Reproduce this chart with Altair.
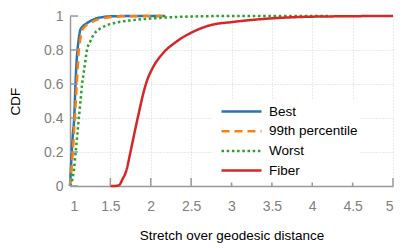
import altair as alt
import pandas as pd

series = ["Best", "99th percentile", "Worst", "Fiber"]
colors = ["#1f77b4", "#ff7f0e", "#2ca02c", "#d62728"]
dashes = [[1, 0], [8, 5], [2.5, 2.7], [1, 0]]

best_x = [1.0, 1.01, 1.022, 1.035, 1.052, 1.068, 1.08, 1.093, 1.11, 1.126, 1.16, 1.2, 1.26, 1.32, 1.4, 1.5, 1.8, 2.18]
best_y = [0.0, 0.09, 0.2, 0.3, 0.4, 0.6, 0.72, 0.8, 0.87, 0.916, 0.94, 0.955, 0.972, 0.985, 0.993, 0.998, 1.0, 1.0]

p99_x = [1.0, 1.015, 1.035, 1.06, 1.084, 1.109, 1.13, 1.15, 1.19, 1.24, 1.3, 1.39, 1.5, 1.65, 2.15]
p99_y = [0.0, 0.08, 0.2, 0.4, 0.6, 0.8, 0.87, 0.916, 0.94, 0.955, 0.972, 0.985, 0.993, 0.998, 1.0]

worst_x = [1.0, 1.03, 1.05, 1.07, 1.09, 1.11, 1.13, 1.15, 1.18, 1.21, 1.25, 1.30, 1.37, 1.45, 1.53, 1.61, 1.77, 2.0, 2.36, 3.0, 4.24]
worst_y = [0.0, 0.04, 0.1, 0.2, 0.3, 0.4, 0.5, 0.6, 0.7, 0.8, 0.85, 0.895, 0.925, 0.945, 0.956, 0.965, 0.975, 0.985, 0.995, 1.0, 1.0]

fiber_x = [1.5, 1.55, 1.61, 1.65, 1.70, 1.74, 1.78, 1.82, 1.86, 1.90, 1.94, 2.03, 2.15, 2.32, 2.52, 2.73, 3.02, 3.43, 3.84, 4.3, 5.0]
fiber_y = [0.0, 0.0, 0.006, 0.04, 0.094, 0.18, 0.27, 0.36, 0.446, 0.53, 0.60, 0.70, 0.78, 0.85, 0.906, 0.945, 0.965, 0.984, 0.994, 0.998, 1.0]

x_ticks = [1, 1.5, 2, 2.5, 3, 3.5, 4, 4.5, 5]
y_ticks = [0, 0.2, 0.4, 0.6, 0.8, 1]

rows = []
for name, xs_, ys_ in zip(series, [best_x, p99_x, worst_x, fiber_x], [best_y, p99_y, worst_y, fiber_y]):
    for i, (xv, yv) in enumerate(zip(xs_, ys_)):
        rows.append({"series": name, "x": xv, "cdf": yv, "order": i})
df = pd.DataFrame(rows)

FONT = "Liberation Sans"
leg = dict(
    title=None, orient="none", legendX=142, legendY=84.5,
    symbolType="stroke", symbolSize=1600, symbolStrokeWidth=2.5, symbolOffset=6,
    labelFontSize=13.5, labelFont=FONT, labelColor="#000000",
    fillColor="white", padding=2, clipHeight=18, rowPadding=1.7, labelOffset=6,
)

xs = alt.Scale(domain=[1, 5], nice=False)
ys = alt.Scale(domain=[0, 1], nice=False)
xaxis = alt.Axis(values=x_ticks, format="~g", title="Stretch over geodesic distance",
                 labelPadding=13, titlePadding=15)
yaxis = alt.Axis(values=y_ticks, format="~g", title="CDF", labelPadding=7, titlePadding=21)

lines = alt.Chart(df).mark_line(strokeWidth=2.5, interpolate="monotone").encode(
    x=alt.X("x:Q", scale=xs, axis=xaxis),
    y=alt.Y("cdf:Q", scale=ys, axis=yaxis),
    color=alt.Color("series:N", scale=alt.Scale(domain=series, range=colors), legend=alt.Legend(**leg)),
    strokeDash=alt.StrokeDash("series:N", scale=alt.Scale(domain=series, range=dashes), legend=alt.Legend(**leg)),
    order="order:Q",
)

xt = pd.DataFrame({"t": x_ticks})
yt = pd.DataFrame({"t": y_ticks})
xtick = alt.Chart(xt).mark_rule(color="#999999", strokeWidth=1.5).encode(
    x=alt.X("t:Q", scale=xs, axis=xaxis), y=alt.value(170), y2=alt.value(162))
ytick = alt.Chart(yt).mark_rule(color="#999999", strokeWidth=1.5).encode(
    y=alt.Y("t:Q", scale=ys, axis=yaxis), x=alt.value(0), x2=alt.value(8))

chart = alt.layer(lines, xtick, ytick).properties(
    width=323, height=170,
    autosize=alt.AutoSizeParams(type="none"),
    padding={"left": 62, "top": 8, "right": 14, "bottom": 60},
).configure_view(stroke=None).configure_axis(
    labelFont=FONT, labelFontSize=14, labelColor="#808080",
    titleFont=FONT, titleFontSize=13.5, titleFontWeight="normal", titleColor="#000000",
    domainColor="#999999", domainWidth=1.5, ticks=False,
    gridColor="#d4d4d4", gridDash=[1, 2], gridWidth=1,
)

chart.save("out.html", embed_options={"renderer": "svg", "actions": False})
